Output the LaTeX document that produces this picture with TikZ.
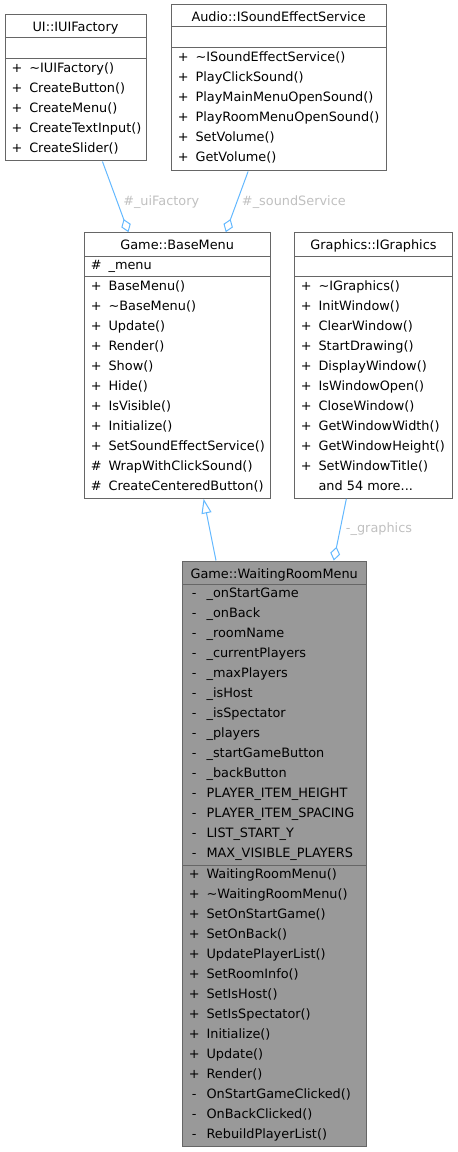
\documentclass[tikz,border=0pt]{standalone}
\usepackage{fontspec}
\setmainfont{DejaVu Sans}
\usepackage{xcolor}
\usepackage{tikz}
\usetikzlibrary{arrows.meta,fit}
\definecolor{uborder}{HTML}{666666}
\definecolor{ufill}{HTML}{999999}
\definecolor{uedge}{HTML}{63B8FF}
\definecolor{ulabel}{HTML}{C0C0C0}
\tikzset{
  ubox/.style={draw=uborder, fill=white, line width=0.75pt, inner sep=0pt},
  ufocus/.style={ubox, fill=ufill},
  usep/.style={draw=uborder, line width=0.75pt},
  utxt/.style={font=\fontsize{9.65}{12}\selectfont, inner sep=0pt},
  utitle/.style={utxt, anchor=base},
  uvis/.style={utxt, anchor=base},
  umem/.style={utxt, anchor=base west},
  ulbl/.style={utxt, anchor=base west, text=ulabel},
  uagg/.style={draw=uedge, line width=0.75pt,
               -{Diamond[open, length=10.5pt, width=7.5pt]}},
  uinh/.style={draw=uedge, line width=0.75pt,
               -{Triangle[open, length=11pt, width=7.5pt]}},
}

\begin{document}
\begin{tikzpicture}[x=0.75pt,y=-0.75pt]
  \useasboundingbox (0,0) rectangle (457,1152);

  % --- UI::IUIFactory ---
  \node[ubox, fit={(5,15) (146,161)}] (uifactory) {};
  \draw[usep] (5,38) -- (146,38);
  \draw[usep] (5,59) -- (146,59);
  \node[utitle] (uiftitle) at (75.5,32) {UI::IUIFactory};
  \foreach \v/\m [count=\i from 0] in {+/\textasciitilde IUIFactory(),
      +/CreateButton(), +/CreateMenu(), +/CreateTextInput(), +/CreateSlider()} {
    \node[uvis] (uifv\i) at (17,{72.3+20*\i}) {\v};
    \node[umem] (uifm\i) at (29,{72.3+20*\i}) {\m};
  }

  % --- Audio::ISoundEffectService ---
  \node[ubox, fit={(171.3,5) (386,171)}] (soundsvc) {};
  \draw[usep] (171.3,27) -- (386,27);
  \draw[usep] (171.3,48) -- (386,48);
  \node[utitle] (sndtitle) at (278.6,21.5) {Audio::ISoundEffectService};
  \foreach \v/\m [count=\i from 0] in {+/\textasciitilde ISoundEffectService(),
      +/PlayClickSound(), +/PlayMainMenuOpenSound(), +/PlayRoomMenuOpenSound(),
      +/SetVolume(), +/GetVolume()} {
    \node[uvis] (sndv\i) at (183.3,{61.3+20*\i}) {\v};
    \node[umem] (sndm\i) at (195.3,{61.3+20*\i}) {\m};
  }

  % --- Game::BaseMenu ---
  \node[ubox, fit={(84.3,232.7) (270,498.3)}] (basemenu) {};
  \draw[usep] (84.3,256) -- (270,256);
  \draw[usep] (84.3,276.7) -- (270,276.7);
  \node[utitle] (bmtitle) at (177.2,249.5) {Game::BaseMenu};
  \node[uvis] (bmav) at (96.3,269.3) {\#};
  \node[umem] (bmam) at (108.3,269.3) {\_menu};
  \foreach \v/\m [count=\i from 0] in {+/BaseMenu(), +/\textasciitilde BaseMenu(),
      +/Update(), +/Render(), +/Show(), +/Hide(), +/IsVisible(), +/Initialize(),
      +/SetSoundEffectService(), \#/WrapWithClickSound(),
      \#/CreateCenteredButton()} {
    \node[uvis] (bmv\i) at (96.3,{290+20*\i}) {\v};
    \node[umem] (bmm\i) at (108.3,{290+20*\i}) {\m};
  }

  % --- Graphics::IGraphics ---
  \node[ubox, fit={(294.3,232.7) (452.7,498.3)}] (igraphics) {};
  \draw[usep] (294.3,256) -- (452.7,256);
  \draw[usep] (294.3,276.7) -- (452.7,276.7);
  \node[utitle] (igtitle) at (373.5,249.5) {Graphics::IGraphics};
  \foreach \v/\m [count=\i from 0] in {+/\textasciitilde IGraphics(),
      +/InitWindow(), +/ClearWindow(), +/StartDrawing(), +/DisplayWindow(),
      +/IsWindowOpen(), +/CloseWindow(), +/GetWindowWidth(),
      +/GetWindowHeight(), +/SetWindowTitle()} {
    \node[uvis] (igv\i) at (306.3,{290+20*\i}) {\v};
    \node[umem] (igm\i) at (318.3,{290+20*\i}) {\m};
  }
  \node[umem] (igmore) at (318.3,490) {and 54 more...};

  % --- Game::WaitingRoomMenu ---
  \node[ufocus, fit={(182.3,561) (366,1146)}] (waitroom) {};
  \draw[usep] (182.3,584) -- (366,584);
  \draw[usep] (182.3,865) -- (366,865);
  \node[utitle] (wrtitle) at (274.2,578) {Game::WaitingRoomMenu};
  \foreach \v/\m [count=\i from 0] in {-/\_onStartGame, -/\_onBack,
      -/\_roomName, -/\_currentPlayers, -/\_maxPlayers, -/\_isHost,
      -/\_isSpectator, -/\_players, -/\_startGameButton, -/\_backButton,
      -/PLAYER\_ITEM\_HEIGHT, -/PLAYER\_ITEM\_SPACING, -/LIST\_START\_Y,
      -/MAX\_VISIBLE\_PLAYERS} {
    \node[uvis] (wrav\i) at (194.3,{597.3+20*\i}) {\v};
    \node[umem] (wram\i) at (206.3,{597.3+20*\i}) {\m};
  }
  \foreach \v/\m [count=\i from 0] in {+/WaitingRoomMenu(),
      +/\textasciitilde WaitingRoomMenu(), +/SetOnStartGame(), +/SetOnBack(),
      +/UpdatePlayerList(), +/SetRoomInfo(), +/SetIsHost(), +/SetIsSpectator(),
      +/Initialize(), +/Update(), +/Render(), -/OnStartGameClicked(),
      -/OnBackClicked(), -/RebuildPlayerList()} {
    \node[uvis] (wrmv\i) at (194.3,{878.3+20*\i}) {\v};
    \node[umem] (wrmm\i) at (206.3,{878.3+20*\i}) {\m};
  }

  % --- relations ---
  \draw[uagg] (uifactory) -- (basemenu);
  \draw[uagg] (soundsvc) -- (basemenu);
  \draw[uinh] (waitroom) -- (basemenu);
  \draw[uagg] (igraphics) -- (waitroom);
  \node[ulbl] (lbluif) at (123,205) {\#\_uiFactory};
  \node[ulbl] (lblsnd) at (241.7,205) {\#\_soundService};
  \node[ulbl] (lblgfx) at (345.7,532.5) {-\_graphics};

\end{tikzpicture}
\end{document}
